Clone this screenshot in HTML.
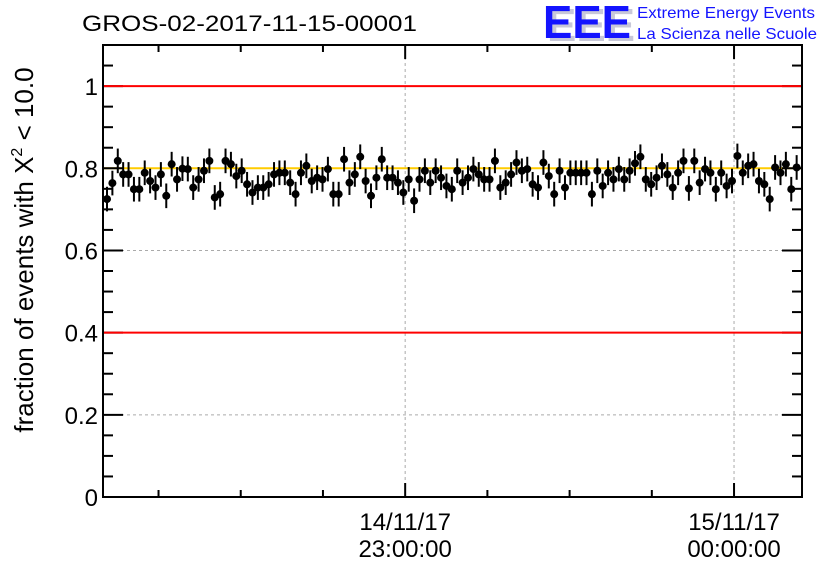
<!DOCTYPE html>
<html><head><meta charset="utf-8"><style>
body{margin:0;background:#fff;font-family:"Liberation Sans",sans-serif}
</style></head><body>
<svg id="c" width="836" height="572" xmlns="http://www.w3.org/2000/svg" font-family="Liberation Sans, sans-serif">
<rect width="836" height="572" fill="#fff"/>
<text x="82" y="31" font-size="22" textLength="335" lengthAdjust="spacingAndGlyphs">GROS-02-2017-11-15-00001</text>
<g>
<text x="547" y="41" font-size="46" font-weight="bold" fill="#c8c8d8" textLength="88" lengthAdjust="spacingAndGlyphs">EEE</text>
<text x="543" y="38" font-size="46" font-weight="bold" fill="#1414ff" textLength="88" lengthAdjust="spacingAndGlyphs">EEE</text>
<text x="637" y="18" font-size="16" fill="#1414ff" textLength="178" lengthAdjust="spacingAndGlyphs">Extreme Energy Events</text>
<text x="637" y="39" font-size="16" fill="#1414ff" textLength="180" lengthAdjust="spacingAndGlyphs">La Scienza nelle Scuole</text>
</g>
<g id="grid"></g><g id="pts"></g><g id="axes"></g><g id="ref"></g>
<text transform="translate(33,250) rotate(-90)" text-anchor="middle" font-size="26">fraction of events with X<tspan font-size="16" dy="-11">2</tspan><tspan dy="11"> &lt; 10.0</tspan></text>
</svg>
<script>
const values=[.725,.764,.818,.785,.785,.749,.749,.789,.769,.753,.785,.733,.810,.773,.799,.798,.753,.773,.794,.818,.729,.737,.818,.810,.781,.794,.761,.741,.753,.753,.761,.785,.789,.789,.765,.737,.789,.806,.769,.777,.773,.798,.737,
.737,.822,.765,.785,.828,.769,.733,.777,.822,.777,.777,.765,.741,.773,.721,.773,.794,.765,.794,.777,.757,.749,.794,.765,.777,.798,.785,.773,.773,.818,.753,.765,.785,.814,.794,.798,.761,.753,.814,.781,.737,.794,.753,
.789,.789,.789,.789,.737,.794,.757,.789,.773,.798,.773,.794,.812,.828,.773,.761,.777,.806,.785,.753,.789,.818,.751,.818,.765,.798,.789,.749,.789,.757,.769,.830,.789,.806,.810,.769,.761,.725,.802,.789,.810,.749,.802];
const errors=values.map(()=>0.03);
const startMinute=5.6; // minutes after 22:00 of first point
const stepMinute=0.983;
const yTicks=[0,0.2,0.4,0.6,0.8,1];
const yTickLabels=["0","0.2","0.4","0.6","0.8","1"];
const xLabelMinutes=[60,120];
const xLabels1=["14/11/17","15/11/17"];
const xLabels2=["23:00:00","00:00:00"];
const refLines=[1,0.4];
const fitValue=0.8;
const L=103,R=802,T=45,B=497,yMax=1.1,xMin=4.87,xMax=132.4;
const sx=m=>L+(m-xMin)/(xMax-xMin)*(R-L);
const sy=v=>B-v/yMax*(B-T);
const NS="http://www.w3.org/2000/svg";
function mk(p,t,a){const e=document.createElementNS(NS,t);for(const k in a)e.setAttribute(k,a[k]);document.getElementById(p).appendChild(e);return e;}
for(const v of [0.2,0.4,0.6,0.8]){const e=mk('grid','line',{x1:L,x2:R,y1:sy(v),y2:sy(v),stroke:'#aaa','stroke-dasharray':'3,3','stroke-width':1});

}
for(const m of xLabelMinutes){const e=mk('grid','line',{x1:sx(m),x2:sx(m),y1:T,y2:B,stroke:'#aaa','stroke-dasharray':'3,3','stroke-width':1});

}
{const e=mk('grid','line',{x1:L,x2:R,y1:sy(fitValue),y2:sy(fitValue),stroke:'#ffcc00','stroke-width':2});

}
values.forEach((v,i)=>{const x=sx(startMinute+i*stepMinute);
const l=mk('pts','line',{x1:x,x2:x,y1:sy(v+errors[i]),y2:sy(v-errors[i]),stroke:'#000','stroke-width':2});


const c=mk('pts','circle',{cx:x,cy:sy(v),r:4,fill:'#000'});

});
{const f=mk('axes','rect',{x:L,y:T,width:R-L,height:B-T,fill:'none',stroke:'#000','stroke-width':2});

}
for(let k=0;k<=22;k++){const v=k*0.05,y=sy(v),len=(k%4===0)?20:10;
mk('axes','line',{x1:L,x2:L+len,y1:y,y2:y,stroke:'#000','stroke-width':2});
mk('axes','line',{x1:R,x2:R-len,y1:y,y2:y,stroke:'#000','stroke-width':2});}
yTicks.forEach((v,i)=>{const t=mk('axes','text',{x:L-5,y:sy(v)+9,'text-anchor':'end','font-size':24});t.textContent=yTickLabels[i];

});
for(let m=15;m<=xMax;m+=15){const x=sx(m),len=(m%60===0)?14:7;
mk('axes','line',{x1:x,x2:x,y1:B,y2:B-len,stroke:'#000','stroke-width':2});
mk('axes','line',{x1:x,x2:x,y1:T,y2:T+len,stroke:'#000','stroke-width':2});}
xLabelMinutes.forEach((m,i)=>{const x=sx(m);
const a=mk('axes','text',{x:x,y:530,'text-anchor':'middle','font-size':24});a.textContent=xLabels1[i];


const b=mk('axes','text',{x:x,y:557,'text-anchor':'middle','font-size':24});b.textContent=xLabels2[i];

});
for(const v of refLines){const e=mk('ref','line',{x1:L+1,x2:R-1,y1:sy(v),y2:sy(v),stroke:'#f00','stroke-width':2});

}
</script>
</body></html>
